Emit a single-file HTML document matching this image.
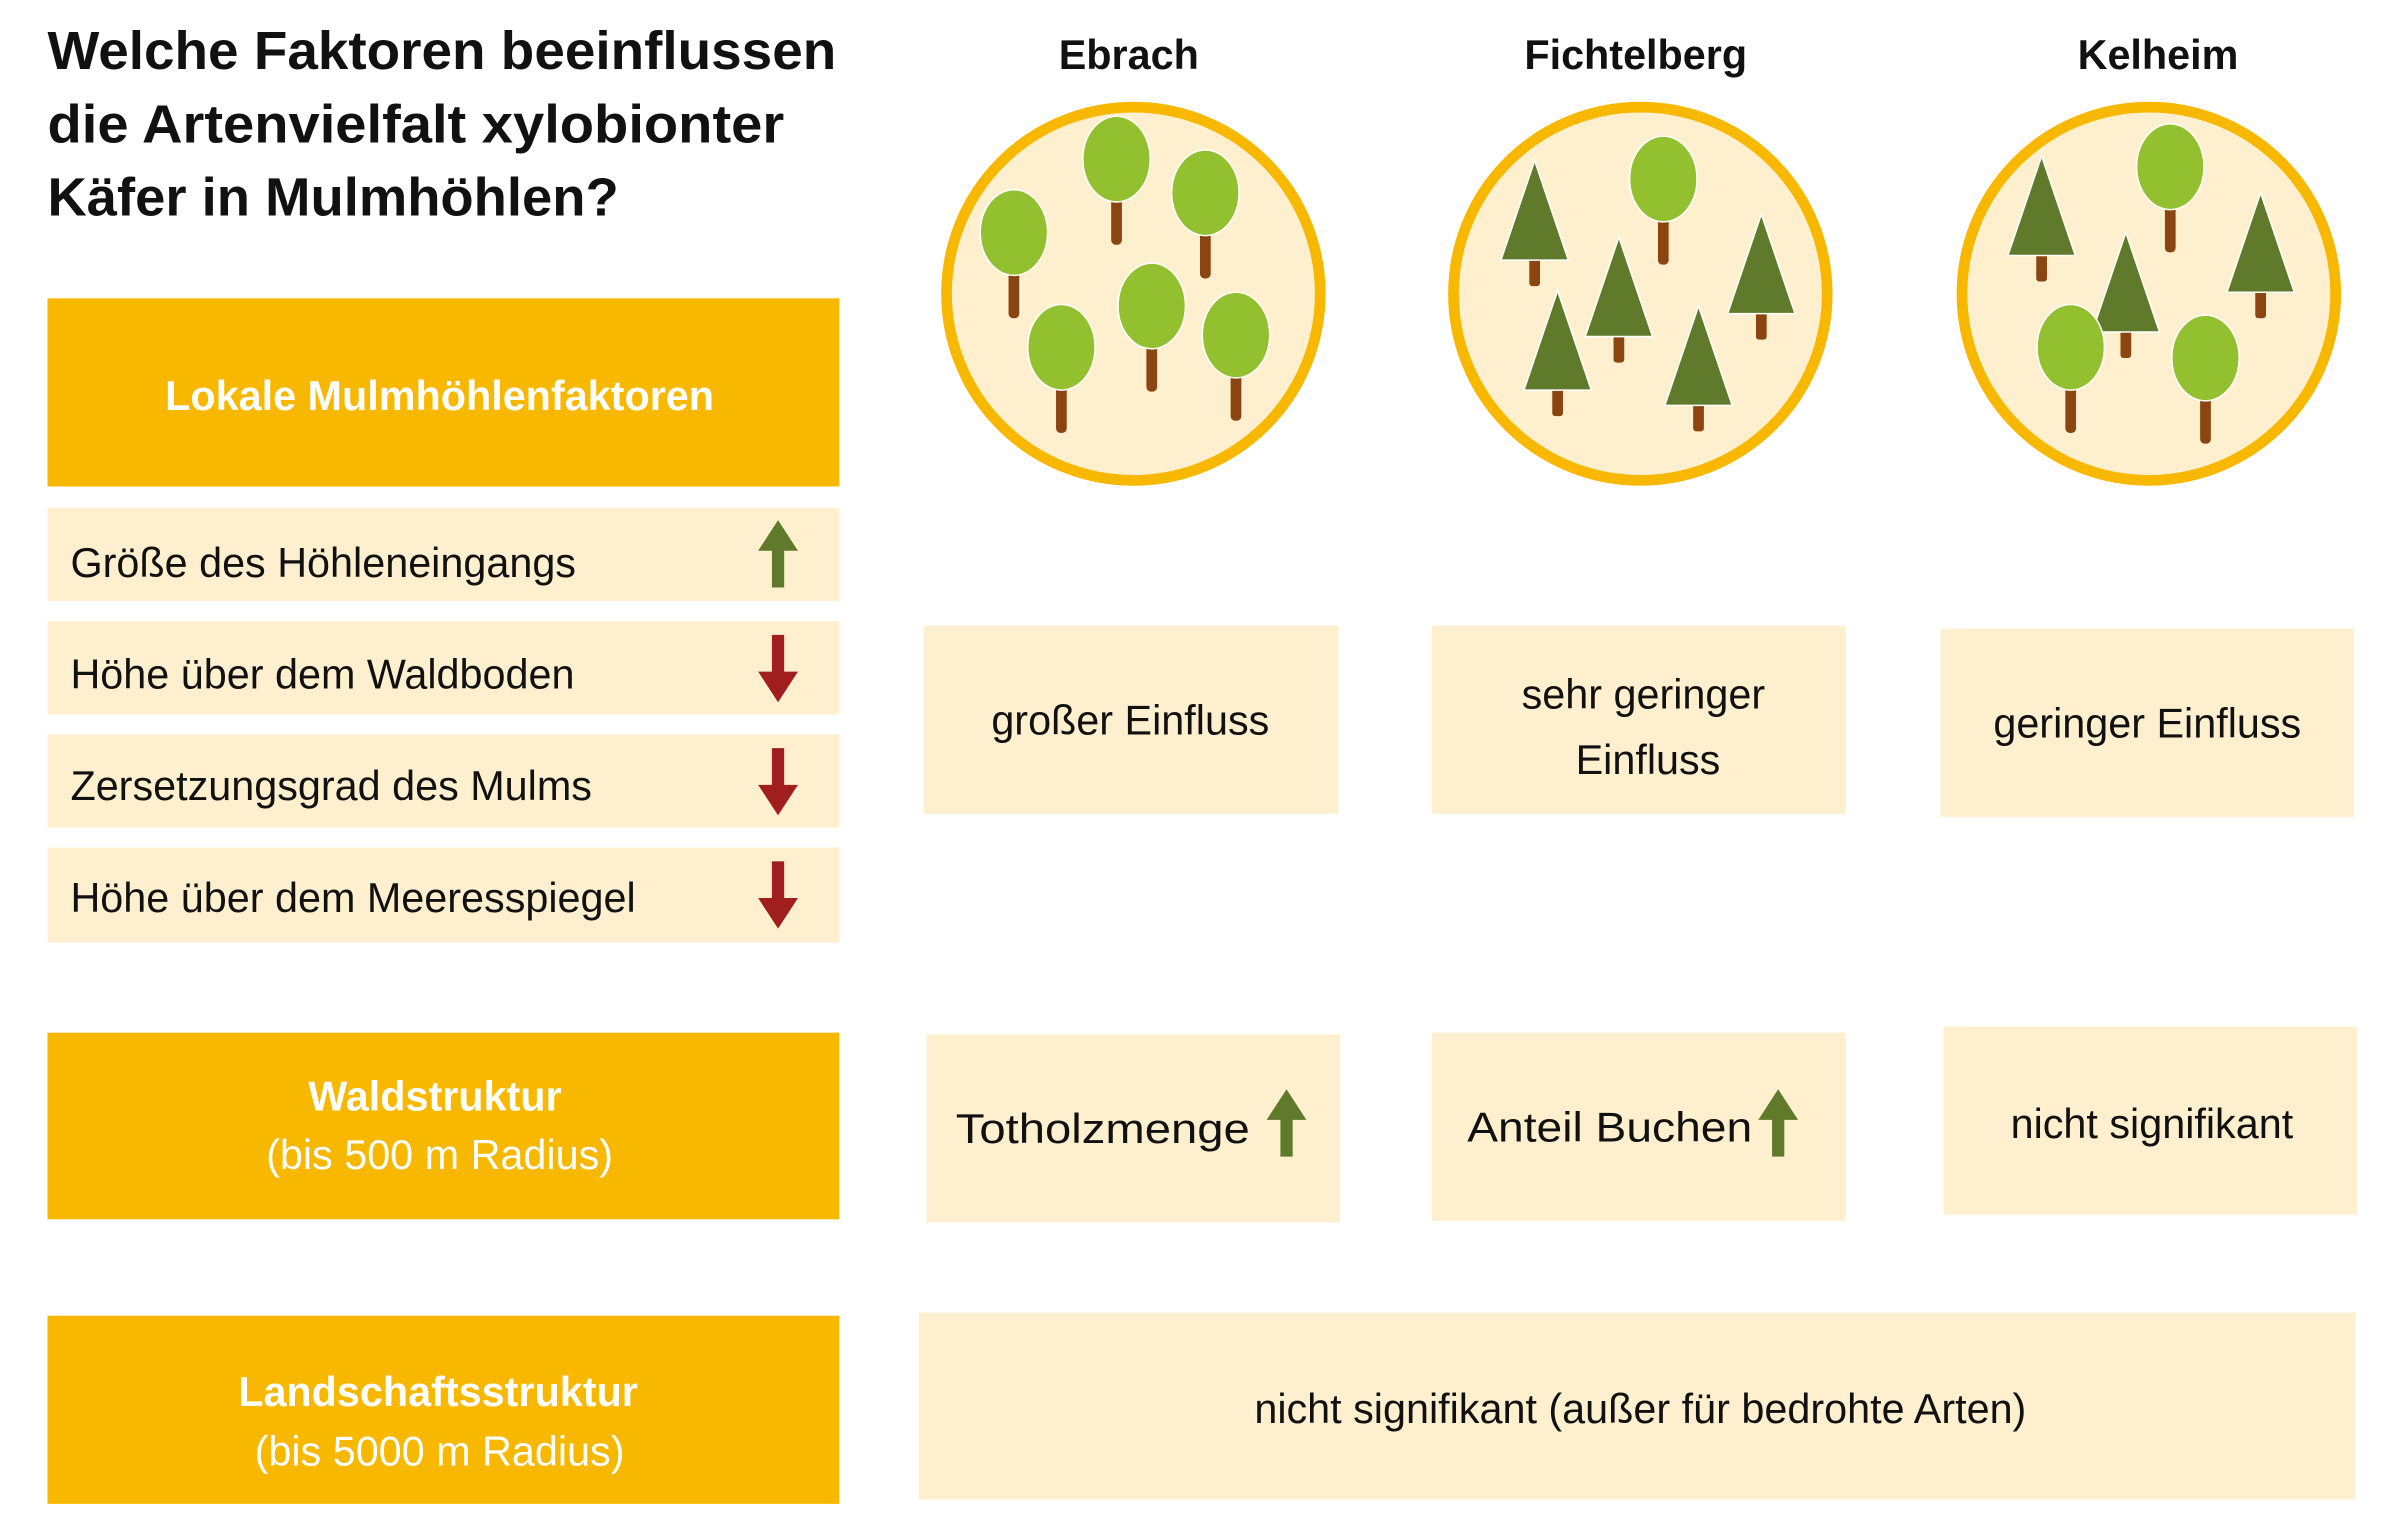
<!DOCTYPE html>
<html><head><meta charset="utf-8"><style>html,body{margin:0;padding:0;background:#fff}svg{display:block}</style></head>
<body>
<svg width="2400" height="1536" viewBox="0 0 1567 1004" preserveAspectRatio="none" xmlns="http://www.w3.org/2000/svg" font-family="'Liberation Sans', sans-serif">
<defs>
<g id="dec"><rect x="-3.5" y="20" width="7" height="36" rx="3" fill="#8B4510"/><ellipse cx="0" cy="0" rx="22" ry="28" fill="#93C02F" stroke="#fff" stroke-width="1"/></g>
<g id="con"><rect x="-3.5" y="55" width="7" height="27" rx="2" fill="#8B4510"/><polygon points="0,0 22,65 -22,65" fill="#5F7A2A" stroke="#fff" stroke-width="1"/></g>
<g id="up"><polygon points="0,0 13,20 -13,20" fill="#5F7A2A"/><rect x="-4" y="19" width="8" height="25" fill="#5F7A2A"/></g>
<g id="dn"><rect x="-4" y="0" width="8" height="25" fill="#A01E1E"/><polygon points="0,44 13,24 -13,24" fill="#A01E1E"/></g>
</defs>
<g font-weight="bold" font-size="35" fill="#111">
<text x="31" y="45" textLength="515" lengthAdjust="spacingAndGlyphs">Welche Faktoren beeinflussen</text>
<text x="31" y="93" textLength="481" lengthAdjust="spacingAndGlyphs">die Artenvielfalt xylobionter</text>
<text x="31" y="141" textLength="373" lengthAdjust="spacingAndGlyphs">Käfer in Mulmhöhlen?</text>
</g>
<g font-weight="bold" font-size="27" fill="#111" text-anchor="middle">
<text x="737" y="45">Ebrach</text><text x="1068" y="45">Fichtelberg</text><text x="1409" y="45">Kelheim</text>
</g>
<g fill="#FEF0CF" stroke="#F9B800" stroke-width="7">
<circle cx="740" cy="192" r="122"/><circle cx="1071" cy="192" r="122"/><circle cx="1403" cy="192" r="122"/>
</g>
<use href="#dec" x="662" y="152"/><use href="#dec" x="729" y="104"/><use href="#dec" x="787" y="126"/>
<use href="#dec" x="693" y="227"/><use href="#dec" x="752" y="200"/><use href="#dec" x="807" y="219"/>
<use href="#dec" x="1086" y="117"/>
<use href="#con" x="1002" y="105"/><use href="#con" x="1057" y="155"/><use href="#con" x="1150" y="140"/>
<use href="#con" x="1017" y="190"/><use href="#con" x="1109" y="200"/>
<use href="#dec" x="1417" y="109"/>
<use href="#con" x="1333" y="102"/><use href="#con" x="1476" y="126"/><use href="#con" x="1388" y="152"/>
<use href="#dec" x="1352" y="227"/><use href="#dec" x="1440" y="234"/>
<g fill="#F9B800">
<rect x="31" y="195" width="517" height="123"/><rect x="31" y="675" width="517" height="122"/><rect x="31" y="860" width="517" height="123"/>
</g>
<g fill="#FEF0CF">
<rect x="31" y="332" width="517" height="61"/><rect x="31" y="406" width="517" height="61"/><rect x="31" y="480" width="517" height="61"/><rect x="31" y="554" width="517" height="62"/>
<rect x="603" y="409" width="271" height="123"/><rect x="935" y="409" width="270" height="123"/><rect x="1267" y="411" width="270" height="123"/>
<rect x="605" y="676" width="270" height="123"/><rect x="935" y="675" width="270" height="123"/><rect x="1269" y="671" width="270" height="123"/>
<rect x="600" y="858" width="938" height="122"/>
</g>
<g fill="#fff" font-size="27" text-anchor="middle">
<text x="287" y="268" font-weight="bold">Lokale Mulmhöhlenfaktoren</text>
<text x="284" y="726" font-weight="bold">Waldstruktur</text><text x="287" y="764">(bis 500 m Radius)</text>
<text x="286" y="919" font-weight="bold">Landschaftsstruktur</text><text x="287" y="958">(bis 5000 m Radius)</text>
</g>
<g fill="#111" font-size="27">
<text x="46" y="377">Größe des Höhleneingangs</text>
<text x="46" y="450">Höhe über dem Waldboden</text>
<text x="46" y="523">Zersetzungsgrad des Mulms</text>
<text x="46" y="596">Höhe über dem Meeresspiegel</text>
<text x="624" y="747" textLength="192" lengthAdjust="spacingAndGlyphs">Totholzmenge</text>
<text x="958" y="746" textLength="186" lengthAdjust="spacingAndGlyphs">Anteil Buchen</text>
<g text-anchor="middle">
<text x="738" y="480">großer Einfluss</text>
<text x="1073" y="463">sehr geringer</text><text x="1076" y="506">Einfluss</text>
<text x="1402" y="482">geringer Einfluss</text>
<text x="1405" y="744">nicht signifikant</text>
<text x="1071" y="930">nicht signifikant (außer für bedrohte Arten)</text>
</g>
</g>
<use href="#up" x="508" y="340"/><use href="#dn" x="508" y="415"/><use href="#dn" x="508" y="489"/><use href="#dn" x="508" y="563"/>
<use href="#up" x="840" y="712"/><use href="#up" x="1161" y="712"/>
</svg>
</body></html>
